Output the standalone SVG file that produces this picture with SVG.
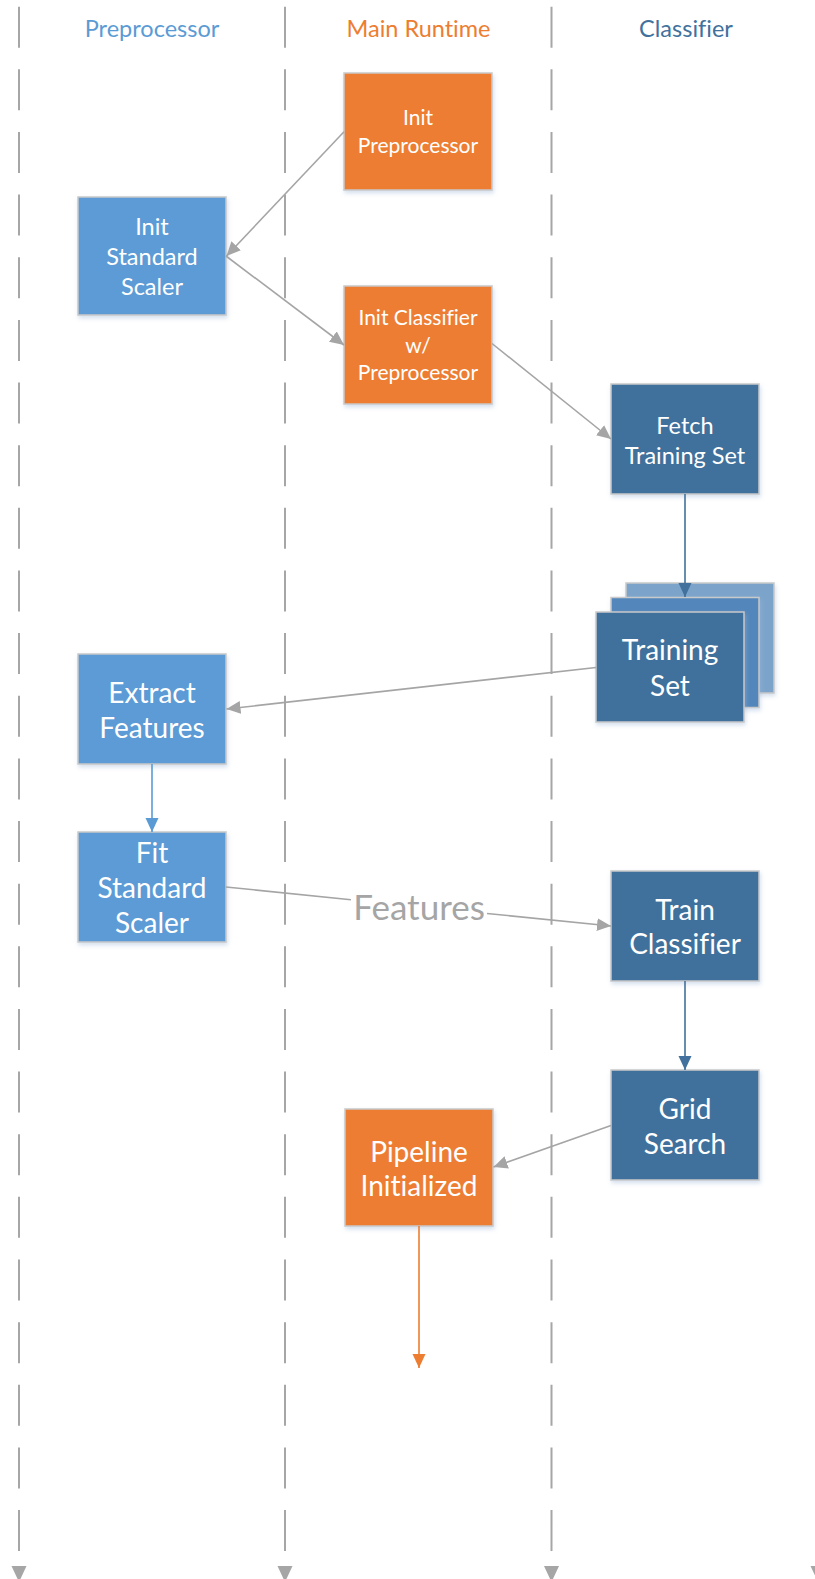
<svg xmlns="http://www.w3.org/2000/svg" width="815" height="1579" viewBox="0 0 815 1579">
  <style>
    .lane { stroke: #A6A6A6; stroke-width: 2; stroke-dasharray: 41 21.64; fill: none; }
    .lane-head { fill: #A6A6A6; }
    text { font-family: Lato, "Liberation Sans", sans-serif; font-variant-ligatures: none; }
    .hdr { font-size: 23.5px; text-anchor: middle; }
    .box { stroke: #C9C9C9; stroke-width: 1.5; filter: url(#shadow); }
    .orange { fill: #ED7D31; }
    .light { fill: #5B9BD5; }
    .dark { fill: #41719C; }
    .label { fill: #FFFFFF; text-anchor: middle; }
    .s { font-size: 21px; }
    .m { font-size: 23.5px; }
    .l { font-size: 28px; }
    .conn { fill: none; stroke-width: 1.6; }
    .gray { stroke: #A5A5A5; }
    .c-light { stroke: #5B9BD5; }
    .c-dark { stroke: #41719C; }
    .c-orange { stroke: #ED7D31; }
    .feat { font-size: 35px; fill: #A5A5A5; text-anchor: middle; }
  </style>
  <defs>
    <filter id="shadow" x="-10%" y="-10%" width="125%" height="125%">
      <feDropShadow dx="1" dy="2.5" stdDeviation="2" flood-color="#9FB9D9" flood-opacity="0.45"/>
    </filter>
    <marker id="ah-gray" markerUnits="userSpaceOnUse" markerWidth="16" markerHeight="16" refX="14" refY="6.5" orient="auto">
      <path d="M0,0 L14,6.5 L0,13 Z" fill="#A5A5A5"/>
    </marker>
    <marker id="ah-light" markerUnits="userSpaceOnUse" markerWidth="16" markerHeight="16" refX="14" refY="6.5" orient="auto">
      <path d="M0,0 L14,6.5 L0,13 Z" fill="#5B9BD5"/>
    </marker>
    <marker id="ah-dark" markerUnits="userSpaceOnUse" markerWidth="16" markerHeight="16" refX="14" refY="6.5" orient="auto">
      <path d="M0,0 L14,6.5 L0,13 Z" fill="#41719C"/>
    </marker>
    <marker id="ah-orange" markerUnits="userSpaceOnUse" markerWidth="16" markerHeight="16" refX="14" refY="6.5" orient="auto">
      <path d="M0,0 L14,6.5 L0,13 Z" fill="#ED7D31"/>
    </marker>
  </defs>

  <rect width="815" height="1579" fill="#FFFFFF"/>

  <!-- swimlane separators -->
  <g id="lanes">
    <line class="lane" x1="19" y1="6.7" x2="19" y2="1562"/>
    <line class="lane" x1="285" y1="6.7" x2="285" y2="1562"/>
    <line class="lane" x1="551.5" y1="6.7" x2="551.5" y2="1562"/>
    <line class="lane" x1="818" y1="6.7" x2="818" y2="1562"/>
    <polygon class="lane-head" points="11.5,1566 26.5,1566 19,1582"/>
    <polygon class="lane-head" points="277.5,1566 292.5,1566 285,1582"/>
    <polygon class="lane-head" points="544,1566 559,1566 551.5,1582"/>
    <polygon class="lane-head" points="810.5,1566 825.5,1566 818,1582"/>
  </g>

  <!-- lane titles -->
  <g id="headers">
    <text class="hdr" x="152" y="36.5" fill="#5B9BD5">Preprocessor</text>
    <text class="hdr" x="418.5" y="36.5" fill="#ED7D31">Main Runtime</text>
    <text class="hdr" x="686" y="36.5" fill="#41719C">Classifier</text>
  </g>

  <!-- nodes -->
  <g id="init-preprocessor">
    <rect class="box orange" x="344" y="73" width="148" height="117"/>
    <text class="label s"><tspan x="418" y="125.4">Init</tspan><tspan x="418" y="153.4">Preprocessor</tspan></text>
  </g>

  <g id="init-standard-scaler">
    <rect class="box light" x="78" y="197" width="148" height="118"/>
    <text class="label m"><tspan x="152" y="234.9">Init</tspan><tspan x="152" y="264.9">Standard</tspan><tspan x="152" y="294.9">Scaler</tspan></text>
  </g>

  <g id="init-classifier">
    <rect class="box orange" x="344" y="286" width="148" height="118"/>
    <text class="label s"><tspan x="418" y="325.2">Init Classifier</tspan><tspan x="418" y="352.7">w/</tspan><tspan x="418" y="380.2">Preprocessor</tspan></text>
  </g>

  <g id="fetch-training-set">
    <rect class="box dark" x="611" y="384" width="148" height="110"/>
    <text class="label m"><tspan x="685" y="434.2">Fetch</tspan><tspan x="685" y="464.2">Training Set</tspan></text>
  </g>

  <g id="training-set">
    <rect class="box" x="626" y="583" width="148" height="110" fill="#7BA4CB"/>
    <rect class="box" x="611" y="597.5" width="148" height="110" fill="#5286BB"/>
    <rect class="box dark" x="596" y="612" width="148" height="110"/>
    <text class="label l"><tspan x="670" y="659.8">Training</tspan><tspan x="670" y="695.8">Set</tspan></text>
  </g>

  <g id="extract-features">
    <rect class="box light" x="78" y="654" width="148" height="110"/>
    <text class="label l"><tspan x="152" y="702.7">Extract</tspan><tspan x="152" y="737.7">Features</tspan></text>
  </g>

  <g id="fit-standard-scaler">
    <rect class="box light" x="78" y="832" width="148" height="110"/>
    <text class="label l"><tspan x="152" y="862.7">Fit</tspan><tspan x="152" y="897.7">Standard</tspan><tspan x="152" y="932.7">Scaler</tspan></text>
  </g>

  <g id="train-classifier">
    <rect class="box dark" x="611" y="871" width="148" height="110"/>
    <text class="label l"><tspan x="685" y="919.7">Train</tspan><tspan x="685" y="953.7">Classifier</tspan></text>
  </g>

  <g id="grid-search">
    <rect class="box dark" x="611" y="1070" width="148" height="110"/>
    <text class="label l"><tspan x="685" y="1118.7">Grid</tspan><tspan x="685" y="1153.7">Search</tspan></text>
  </g>

  <g id="pipeline-initialized">
    <rect class="box orange" x="345" y="1109" width="148" height="117"/>
    <text class="label l"><tspan x="419" y="1161.7">Pipeline</tspan><tspan x="419" y="1195.7">Initialized</tspan></text>
  </g>

  <!-- connectors, drawn over the nodes -->
  <g id="connectors">
    <line class="conn gray" x1="344" y1="131.7" x2="226.5" y2="256" marker-end="url(#ah-gray)"/>
    <line class="conn gray" x1="226" y1="256" x2="344" y2="345" marker-end="url(#ah-gray)"/>
    <line class="conn gray" x1="492" y1="343.5" x2="611" y2="439" marker-end="url(#ah-gray)"/>
    <line class="conn c-dark" x1="685" y1="494" x2="685" y2="597" marker-end="url(#ah-dark)"/>
    <line class="conn gray" x1="596" y1="667.5" x2="226.5" y2="709" marker-end="url(#ah-gray)"/>
    <line class="conn c-light" x1="152" y1="764" x2="152" y2="832" marker-end="url(#ah-light)"/>
    <line class="conn gray" x1="226" y1="887" x2="351" y2="899.7"/>
    <line class="conn gray" x1="487" y1="913.5" x2="611" y2="926" marker-end="url(#ah-gray)"/>
    <text class="feat" x="419" y="920">Features</text>
    <line class="conn c-dark" x1="685" y1="981" x2="685" y2="1070" marker-end="url(#ah-dark)"/>
    <line class="conn gray" x1="611" y1="1125.5" x2="493.5" y2="1167" marker-end="url(#ah-gray)"/>
    <line class="conn c-orange" x1="419" y1="1226" x2="419" y2="1368" marker-end="url(#ah-orange)"/>
  </g>
</svg>
